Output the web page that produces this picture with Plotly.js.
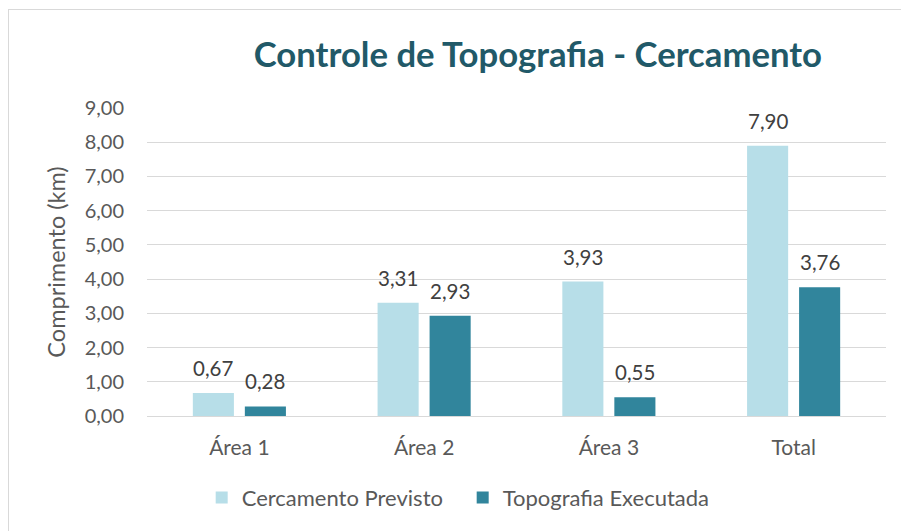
<!DOCTYPE html>
<html><head><meta charset="utf-8">
<script src="https://cdn.plot.ly/plotly-3.0.1.min.js"></script>
<style>
body{margin:0;padding:0;background:#fff;}
#wrap{position:relative;width:901px;height:531px;overflow:hidden;}
#chart{width:901px;height:531px;}
#frame{position:absolute;left:8px;top:9px;width:900px;height:530px;border:1px solid #d9d9d9;pointer-events:none;}
</style></head>
<body><div id="wrap"><div id="chart"></div><div id="frame"></div></div>
<script>
const categories = ["Área 1", "Área 2", "Área 3", "Total"];
const cercamentoPrevisto = [0.67, 3.31, 3.93, 7.90];
const topografiaExecutada = [0.28, 2.93, 0.55, 3.76];
const seriesNames = ["Cercamento Previsto", "Topografia Executada"];
const yTicks = [0,1,2,3,4,5,6,7,8,9];

const FONT = "Lato, 'Open Sans', sans-serif";
const traces = [
  {type:'bar', x:categories, y:cercamentoPrevisto, name:seriesNames[0],
   marker:{color:'#B7DEE8'}, hoverinfo:'skip'},
  {type:'bar', x:categories, y:topografiaExecutada, name:seriesNames[1],
   marker:{color:'#31859C'}, hoverinfo:'skip'}
];
const fmt = v => v.toFixed(2).replace('.', ',');
const annotations = [];
[cercamentoPrevisto, topografiaExecutada].forEach((vals, si) => {
  vals.forEach((v, i) => {
    annotations.push({x:categories[i], y:v, xref:'x', yref:'y', text:fmt(v), showarrow:false,
      xshift: si === 0 ? -26 : 26, yshift:25, yanchor:'middle', xanchor:'center',
      font:{family:FONT, size:20.5, color:'#404040'}});
  });
});
const layout = {
  width:901, height:531,
  margin:{l:147, r:15, t:108, b:115},
  paper_bgcolor:'#fff', plot_bgcolor:'#fff',
  separators:',.',
  barmode:'group', bargap:0.437, bargroupgap:0.21,
  title:{text:'<b>Controle de Topografia - Cercamento</b>', font:{family:FONT,size:34.7,color:'#215968'},
         x:0.597, xanchor:'center', y:0.897, yanchor:'middle'},
  xaxis:{type:'category', showline:true, linecolor:'#d9d9d9', linewidth:1, ticks:'',
         tickfont:{family:FONT,size:21,color:'#595959'}, ticklabelstandoff:13},
  yaxis:{range:[0,9], tickvals:yTicks, tickformat:'.2f', showgrid:true, gridcolor:'#d9d9d9',
         zeroline:false, ticks:'', tickfont:{family:FONT,size:20,color:'#595959'}, ticklabelstandoff:22,
         title:{text:'Comprimento (km)', font:{family:FONT,size:23.5,color:'#595959'}, standoff:12}},
  legend:{orientation:'h', x:0.074, xanchor:'left', y:-0.265, yanchor:'middle',
          font:{family:FONT,size:22,color:'#595959'}, itemwidth:30, entrywidth:216, traceorder:'normal'},
  annotations: annotations,
  showlegend:true
};
Plotly.newPlot('chart', traces, layout, {staticPlot:true});
</script></body></html>
